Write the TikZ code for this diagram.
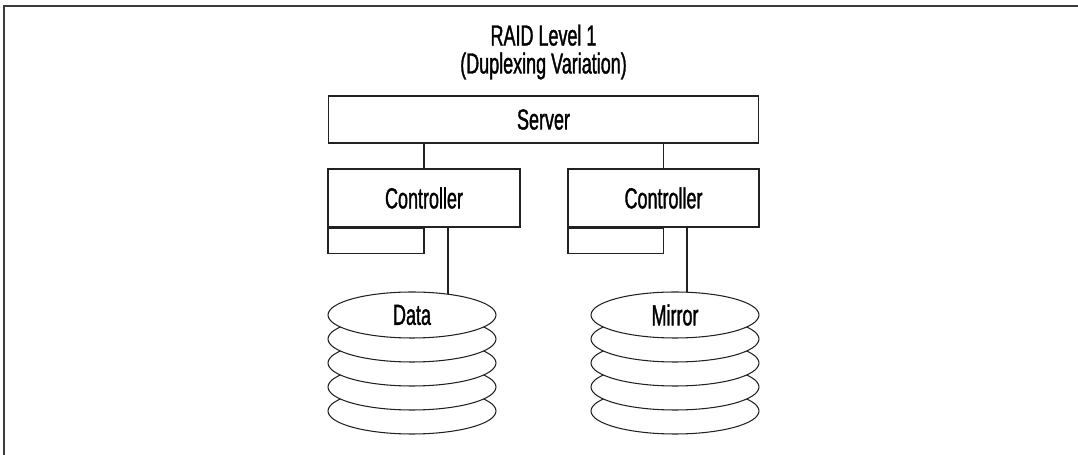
\documentclass[tikz,border=0pt]{standalone}
\usepackage{fontspec}
\setmainfont{Liberation Sans}[FakeStretch=0.62, FakeBold=1.2]
\usepackage{tikz}
\usetikzlibrary{shapes.geometric,positioning,calc,backgrounds}
\definecolor{raidline}{HTML}{222222}
\definecolor{raidframe}{HTML}{3C3C3C}

\begin{document}
\begin{tikzpicture}[
    x=0.02cm, y=-0.02cm,
    block/.style={rectangle, draw=raidline, fill=white, line width=0.6pt, inner sep=0pt, font=\fontsize{16.5}{16}\selectfont},
    disk/.style={ellipse, draw=raidline, fill=white, line width=0.6pt, inner sep=0pt, minimum width=3.36cm, minimum height=0.92cm, font=\fontsize{16.5}{16}\selectfont},
    line/.style={draw, color=raidline, line width=0.6pt}
]
\useasboundingbox (0,0) rectangle (1078,455);

% Frame
\draw [raidframe, line width=1.2pt] (4,455) -- (4,6) -- (1078,6);

% Title
\node [font=\fontsize{16.5}{15.9}\selectfont, align=center] (title) at (543.5,52) {RAID Level 1\\(Duplexing Variation)};

% Nodes
\node [block, minimum width=8.62cm, minimum height=0.94cm] (server) at (543.5,119.5) {Server};
\node [block, minimum width=3.84cm, minimum height=1.16cm] (ctrlL) at (424,198) {Controller};
\node [block, minimum width=3.82cm, minimum height=1.16cm] (ctrlR) at (663.5,198) {Controller};
\node [block, anchor=north west, minimum width=1.92cm, minimum height=0.5cm] (portL) at (ctrlL.south west) {};
\node [block, anchor=north west, minimum width=1.91cm, minimum height=0.5cm] (portR) at (ctrlR.south west) {};

% Disk stacks
\foreach \y in {411,387,363,339} {
    \node [disk] at (412,\y) {};
    \node [disk] at (675,\y) {};
}
\node [disk] (data) at (412,315) {Data};
\node [disk] (mirror) at (675,315) {Mirror};

% Connectors
\path [line] (server.south -| ctrlL.north) -- (ctrlL.north);
\path [line] (server.south -| ctrlR.north) -- (ctrlR.north);
\begin{scope}[on background layer]
\path [line] ([xshift=0.48cm]ctrlL.south) coordinate (tapL) -- (tapL |- data.center);
\path [line] ([xshift=0.47cm]ctrlR.south) coordinate (tapR) -- (tapR |- mirror.center);
\end{scope}

\end{tikzpicture}
\end{document}
